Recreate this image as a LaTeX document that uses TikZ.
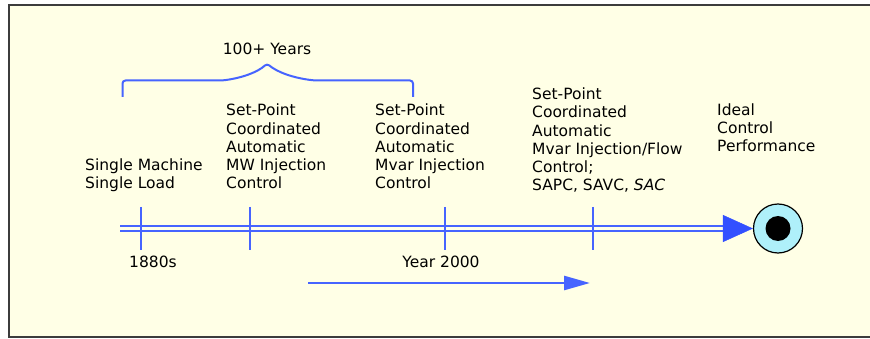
\documentclass[tikz,border=0pt]{standalone}
\usepackage{fontspec}
\newfontfamily\labfont{DejaVu Sans}
\usetikzlibrary{arrows.meta}
\definecolor{bgyellow}{RGB}{255,255,230}
\definecolor{lineblue}{RGB}{70,100,255}
\definecolor{headblue}{RGB}{50,80,255}
\definecolor{goalcyan}{RGB}{175,240,250}
\definecolor{framegray}{RGB}{60,60,60}
\tikzset{
  lab/.style={inner sep=0pt, anchor=base west, align=left,
    font=\labfont\fontsize{15.5}{18.2}\selectfont, text=black},
  clab/.style={inner sep=0pt, anchor=base,
    font=\labfont\fontsize{15.5}{18.2}\selectfont, text=black},
  timeline/.style={draw=lineblue, line width=2pt, double=bgyellow, double distance=3pt},
  tickmark/.style={draw=lineblue, line width=2pt},
  bracepath/.style={draw=lineblue, line width=2pt, rounded corners=3pt},
  goalnode/.style={circle, draw=black, line width=1.2pt, fill=goalcyan, minimum size=49pt, inner sep=0pt},
}
\begin{document}
\begin{tikzpicture}[x=1pt,y=-1pt]
\useasboundingbox (0,0) rectangle (870,339);
% frame
\fill[bgyellow] (9,5) rectangle (870,337);
\draw[framegray, line width=2pt] (870,5) -- (9,5) -- (9,337) -- (870,337);

% brace
\draw[bracepath] (122.5,97) -- (122.5,80.5) -- (222,80.5)
  .. controls (242,78) and (258,72) .. (267,63.5)
  .. controls (277,72) and (293,78) .. (315,80.5) -- (413,80.5) -- (413,97);
\node[clab] (years) at (267,55) {100+ Years};

% texts (anchor = baseline of the last line)
\node[lab] (single) at (85,188.7) {Single Machine\\Single Load};
\node[lab] (mw) at (226,188.7) {Set-Point\\Coordinated\\Automatic\\MW Injection\\Control};
\node[lab] (mvar) at (375,188.7) {Set-Point\\Coordinated\\Automatic\\Mvar Injection\\Control};
\node[lab] (flow) at (532,190.7) {Set-Point\\Coordinated\\Automatic\\Mvar Injection/Flow\\Control;\\SAPC, SAVC, \textit{SAC}};
\node[lab] (ideal) at (717,151.7) {Ideal\\Control\\Performance};

% timeline
\coordinate (tstart) at (120,228.5);
\node[goalnode] (goal) at (778,228.5) {};
\fill[black] (goal.center) circle (12.5pt);
\coordinate (abase) at (723,228.5);
\draw[timeline] (tstart) -- (abase);
\draw[headblue, line width=0.5pt, -{Triangle[length=30pt,width=27pt]}] (abase) -- (goal.west);

% ticks
\foreach \n/\x in {t1/141, t2/250, t3/445, t4/593}{
  \coordinate (\n) at (\x,228.5);
  \draw[tickmark] (\n) ++(0,-21.5) -- ++(0,43);
}
\node[clab] (y1880) at (153,267.3) {1880s};
\node[clab] (y2000) at (441,267.3) {Year 2000};

% bottom arrow
\coordinate (bstart) at (308,283);
\coordinate (bend) at (590,283);
\draw[lineblue, line width=2.5pt, -{Triangle[length=26pt,width=14pt]}] (bstart) -- (bend);
\end{tikzpicture}
\end{document}
